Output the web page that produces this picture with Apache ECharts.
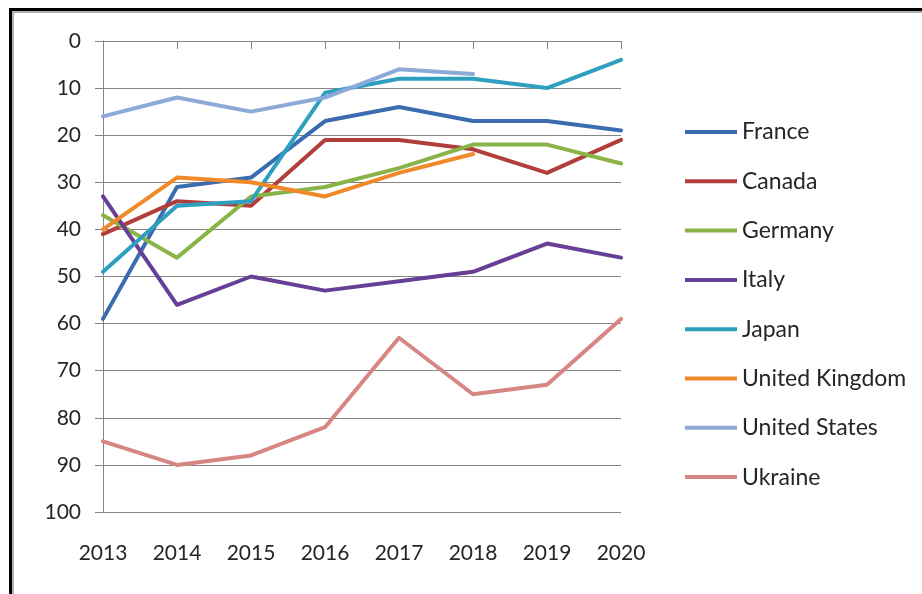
<!DOCTYPE html>
<html>
<head>
<meta charset="utf-8">
<script src="https://cdn.jsdelivr.net/npm/echarts@6/dist/echarts.min.js"></script>
<style>
html,body{margin:0;padding:0;background:#fff;}
#c{width:922px;height:594px;}
</style>
</head>
<body>
<div id="c"></div>
<script>
var years = ['2013','2014','2015','2016','2017','2018','2019','2020'];
var france = [59, 31, 29, 17, 14, 17, 17, 19];
var canada = [41, 34, 35, 21, 21, 23, 28, 21];
var germany = [37, 46, 33, 31, 27, 22, 22, 26];
var italy = [33, 56, 50, 53, 51, 49, 43, 46];
var japan = [49, 35, 34, 11, 8, 8, 10, 4];
var unitedKingdom = [40, 29, 30, 33, 28, 24, null, null];
var unitedStates = [16, 12, 15, 12, 6, 7, null, null];
var ukraine = [85, 90, 88, 82, 63, 75, 73, 59];
var yTicks = [0, 100, 10];

var seriesNames = ['France','Canada','Germany','Italy','Japan','United Kingdom','United States','Ukraine'];
var seriesData = [france, canada, germany, italy, japan, unitedKingdom, unitedStates, ukraine];
var colors = ['#3B6CAF','#B23E3B','#89B447','#673F96','#2F9FC0','#F0892A','#8DA9D8','#D68783'];

var chart = echarts.init(document.getElementById('c'), null, {renderer:'canvas'});
var series = seriesNames.map(function(n,i){
  return {
    name: n, type: 'line', data: seriesData[i], symbol: 'none',
    connectNulls: false, silent: true, animation: false,
    lineStyle: {width: 4, color: colors[i], cap: 'round', join: 'round'},
    itemStyle: {color: colors[i]}
  };
});
chart.setOption({
  animation: false,
  backgroundColor: '#ffffff',
  color: colors,
  grid: {left: 103, right: 301, top: 41, bottom: 82, containLabel: false},
  xAxis: {
    type: 'category', data: years, boundaryGap: false,
    axisLine: {lineStyle: {color: '#868686', width: 1}},
    axisTick: {show: true, alignWithLabel: true, length: 8, lineStyle: {color: '#868686'}},
    axisLabel: {color: '#262626', fontFamily: 'Lato', fontSize: 21, margin: 31},
    splitLine: {show: false}
  },
  yAxis: {
    type: 'value', inverse: true, min: yTicks[0], max: yTicks[1], interval: yTicks[2],
    axisLine: {show: true, lineStyle: {color: '#868686', width: 1}},
    axisTick: {show: true, length: 8, lineStyle: {color: '#868686'}},
    axisLabel: {color: '#262626', fontFamily: 'Lato', fontSize: 21, margin: 22},
    splitLine: {show: true, lineStyle: {color: '#868686', width: 1}}
  },
  legend: {
    orient: 'vertical', left: 680, top: 115,
    itemWidth: 52, itemHeight: 24, itemGap: 25.3,
    icon: 'path://M0,10 L52,10 L52,14 L0,14 Z',
    textStyle: {color: '#262626', fontFamily: 'Lato', fontSize: 23, lineHeight: 24},
    data: seriesNames.map(function(n){return {name:n};}),
    selectedMode: false
  },
  graphic: [
    {type: 'rect', shape: {x: 9, y: 8, width: 3, height: 600}, style: {fill: '#000'}, silent: true},
    {type: 'rect', shape: {x: 9, y: 8, width: 920, height: 3}, style: {fill: '#000'}, silent: true},
    {type: 'rect', shape: {x: 12, y: 11, width: 2, height: 600}, style: {fill: '#b0b0b0'}, silent: true},
    {type: 'rect', shape: {x: 12, y: 11, width: 920, height: 2}, style: {fill: '#b0b0b0'}, silent: true}
  ],
  series: series
});
</script>
</body>
</html>
